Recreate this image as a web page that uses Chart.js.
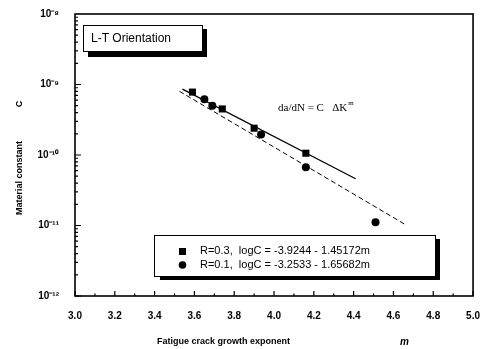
<!DOCTYPE html>
<html>
<head>
<meta charset="utf-8">
<script src="https://cdn.jsdelivr.net/npm/chart.js@4"></script>
<style>
  html, body { margin: 0; padding: 0; background: #fff; }
  canvas { display: block; }
</style>
</head>
<body>
<canvas id="chart" width="486" height="349"></canvas>
<script>
// data
const seriesNames = ['R=0.3,  logC = -3.9244 - 1.45172m', 'R=0.1,  logC = -3.2533 - 1.65682m'];
const r03M = [3.59, 3.74, 3.90, 4.16];
const r03C = [7.8e-10, 4.5e-10, 2.4e-10, 1.06e-10];
const r01M = [3.65, 3.69, 3.935, 4.16, 4.51];
const r01C = [6.2e-10, 5.0e-10, 1.95e-10, 6.7e-11, 1.11e-11];
// end points of the fitted lines as drawn
const r03FitM = [3.54, 4.41];
const r03FitC = [8.6e-10, 4.6e-11];
const r01FitM = [3.525, 4.655];
const r01FitC = [8.0e-10, 1.05e-11];
const xTicks = [3.0, 3.2, 3.4, 3.6, 3.8, 4.0, 4.2, 4.4, 4.6, 4.8, 5.0];
const yTicks = [1e-12, 1e-11, 1e-10, 1e-9, 1e-8];
const yTickLabels = ['10⁻¹²', '10⁻¹¹', '10⁻¹⁰', '10⁻⁹', '10⁻⁸'];

const pts = (xs, ys) => xs.map((x, i) => ({ x: x, y: ys[i] }));

const decor = {
    id: 'decor',
    afterDraw(chart) {
        const c = chart.ctx;
        const a = chart.chartArea;
        const xs = chart.scales.x;
        const ys = chart.scales.y;
        c.save();
        c.strokeStyle = '#000';
        c.fillStyle = '#000';

        // frame
        c.lineWidth = 1.6;
        c.strokeRect(a.left, a.top, a.right - a.left, a.bottom - a.top);

        // inward ticks
        c.lineWidth = 1.2;
        c.beginPath();
        for (let v = 3.0; v <= 5.0001; v += 0.1) {
            const px = xs.getPixelForValue(v);
            const major = Math.abs(v * 5 - Math.round(v * 5)) < 1e-6;
            c.moveTo(px, a.bottom);
            c.lineTo(px, a.bottom - (major ? 5 : 2.5));
        }
        for (let e = -12; e < -8; e++) {
            for (let k = 1; k <= 9; k++) {
                const py = ys.getPixelForValue(k * Math.pow(10, e));
                c.moveTo(a.left, py);
                c.lineTo(a.left + (k === 1 ? 6 : 3), py);
            }
        }
        c.stroke();

        // L-T Orientation box
        c.fillRect(88, 52, 119, 5);
        c.fillRect(203, 29, 4, 28);
        c.fillStyle = '#fff';
        c.fillRect(83, 25, 120, 27);
        c.fillStyle = '#000';
        c.lineWidth = 1;
        c.strokeRect(83.5, 25.5, 119, 26);
        c.font = '12px "Liberation Sans", Arial, sans-serif';
        c.textBaseline = 'middle';
        c.textAlign = 'left';
        c.fillText('L-T Orientation', 91, 39);

        // equation
        c.font = '11px "Liberation Serif", "Times New Roman", serif';
        const eq = 'da/dN = C   \u0394K';
        c.fillText(eq, 278, 108);
        const w = c.measureText(eq).width;
        c.font = '7px "Liberation Serif", serif';
        c.fillText('m', 278 + w + 1, 103);

        // legend box
        c.fillRect(160, 276, 280, 4);
        c.fillRect(436, 239, 4, 41);
        c.fillStyle = '#fff';
        c.fillRect(154, 235, 282, 42);
        c.fillStyle = '#000';
        c.strokeRect(154.5, 235.5, 281, 41);
        c.fillRect(179, 248, 7, 7);
        c.beginPath();
        c.arc(182.5, 265, 3.8, 0, Math.PI * 2);
        c.fill();
        c.font = '11px "Liberation Sans", Arial, sans-serif';
        c.fillText(seriesNames[0], 200, 251);
        c.fillText(seriesNames[1], 200, 265);

        // axis titles
        c.font = 'bold 9px "Liberation Sans", Arial, sans-serif';
        c.textAlign = 'left';
        c.fillText('Fatigue crack growth exponent', 157, 342);
        c.font = 'italic bold 10px "Liberation Sans", Arial, sans-serif';
        c.fillText('m', 400, 342);
        c.translate(20, 0);
        c.rotate(-Math.PI / 2);
        c.textAlign = 'center';
        c.font = 'bold 9px "Liberation Sans", Arial, sans-serif';
        c.fillText('Material constant', -178, 0);
        c.fillText('C', -104, 0);
        c.restore();
    }
};

new Chart(document.getElementById('chart').getContext('2d'), {
    type: 'scatter',
    data: {
        datasets: [{
            label: seriesNames[0],
            data: pts(r03M, r03C),
            pointStyle: 'rect',
            pointRadius: 5,
            backgroundColor: '#000',
            borderColor: '#000',
            borderWidth: 0,
        }, {
            label: seriesNames[1],
            data: pts(r01M, r01C),
            pointStyle: 'circle',
            pointRadius: 4,
            backgroundColor: '#000',
            borderColor: '#000',
            borderWidth: 0,
        }, {
            label: 'fit R=0.3',
            data: pts(r03FitM, r03FitC),
            showLine: true,
            pointRadius: 0,
            borderColor: '#000',
            borderWidth: 1.3,
        }, {
            label: 'fit R=0.1',
            data: pts(r01FitM, r01FitC),
            showLine: true,
            pointRadius: 0,
            borderColor: '#000',
            borderWidth: 1,
            borderDash: [5, 3],
        }]
    },
    options: {
        responsive: false,
        animation: false,
        devicePixelRatio: 1,
        layout: { padding: { top: 13, right: 11, left: 0, bottom: 0 } },
        plugins: {
            legend: { display: false },
            tooltip: { enabled: false },
        },
        scales: {
            x: {
                type: 'linear',
                min: 3,
                max: 5,
                afterBuildTicks: s => { s.ticks = xTicks.map(v => ({ value: v })); },
                afterFit: s => { s.height = 53; },
                grid: { display: false },
                border: { display: false },
                ticks: {
                    autoSkip: false,
                    maxRotation: 0,
                    padding: 6,
                    color: '#000',
                    font: { family: '"Liberation Sans", Arial, sans-serif', size: 10, weight: 'bold' },
                    callback: v => v.toFixed(1),
                },
            },
            y: {
                type: 'logarithmic',
                min: 1e-12,
                max: 1e-8,
                afterBuildTicks: s => { s.ticks = yTicks.map(v => ({ value: v })); },
                afterFit: s => { s.width = 75; },
                grid: { display: false },
                border: { display: false },
                ticks: {
                    autoSkip: false,
                    padding: 8,
                    color: '#000',
                    font: { family: '"Liberation Sans", Arial, sans-serif', size: 10, weight: 'bold' },
                    callback: (v) => yTickLabels[yTicks.findIndex(t => Math.abs(Math.log10(t) - Math.log10(v)) < 1e-6)],
                },
            },
        },
    },
    plugins: [decor],
});
</script>
</body>
</html>
